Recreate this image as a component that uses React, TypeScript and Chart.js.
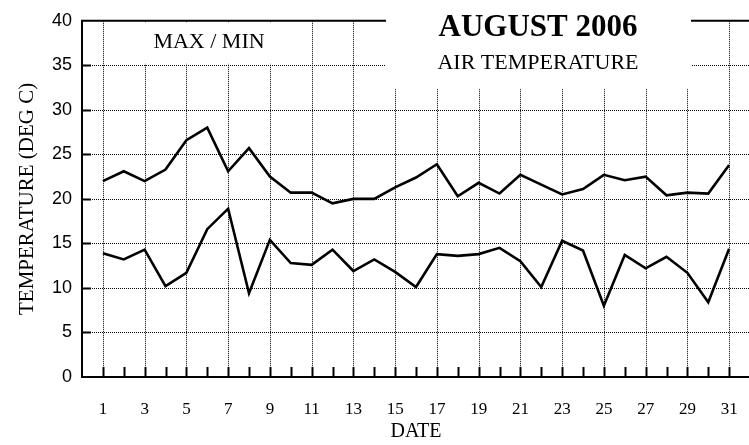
import React, { useEffect, useRef } from 'react';
import { Chart, registerables } from 'chart.js';

Chart.register(...registerables);

const days = [1, 2, 3, 4, 5, 6, 7, 8, 9, 10, 11, 12, 13, 14, 15, 16, 17, 18, 19, 20, 21, 22, 23, 24, 25, 26, 27, 28, 29, 30, 31];
const maxTemp = [22.0, 23.1, 22.0, 23.3, 26.6, 28.0, 23.1, 25.7, 22.5, 20.7, 20.7, 19.5, 20.0, 20.0, 21.3, 22.4, 23.9, 20.3, 21.8, 20.6, 22.7, 21.6, 20.5, 21.1, 22.7, 22.1, 22.5, 20.4, 20.7, 20.6, 23.8];
const minTemp = [13.9, 13.2, 14.3, 10.2, 11.7, 16.6, 18.9, 9.4, 15.4, 12.8, 12.6, 14.3, 11.9, 13.2, 11.8, 10.1, 13.8, 13.6, 13.8, 14.5, 13.0, 10.1, 15.3, 14.2, 8.0, 13.7, 12.2, 13.5, 11.7, 8.4, 14.4];
const yTickValues = [0, 5, 10, 15, 20, 25, 30, 35, 40];
const xLabelDays = [1, 3, 5, 7, 9, 11, 13, 15, 17, 19, 21, 23, 25, 27, 29, 31];

const titleText = 'AUGUST 2006';
const subtitleText = 'AIR TEMPERATURE';
const legendText = 'MAX / MIN';
const yTitle = 'TEMPERATURE (DEG C)';
const xTitle = 'DATE';

const SERIF = '"Liberation Serif", "Times New Roman", serif';
const SANS = '"Liberation Sans", Arial, sans-serif';

const decorPlugin = {
  id: 'decor',
  beforeDatasetsDraw(chart: any) {
    const { ctx, chartArea: a, scales } = chart;
    const xs = scales.x;
    const ys = scales.y;
    const W = chart.width;
    ctx.save();
    ctx.strokeStyle = '#000';
    ctx.lineWidth = 1;
    ctx.setLineDash([1, 1]);
    yTickValues.forEach((v) => {
      if (v <= yTickValues[0] || v >= yTickValues[yTickValues.length - 1]) return;
      const py = Math.round(ys.getPixelForValue(v)) + 0.5;
      ctx.beginPath();
      ctx.moveTo(a.left, py);
      ctx.lineTo(a.right, py);
      ctx.stroke();
    });
    xLabelDays.forEach((d) => {
      const px = Math.round(xs.getPixelForValue(d)) + 0.5;
      ctx.beginPath();
      ctx.moveTo(px, a.top);
      ctx.lineTo(px, a.bottom);
      ctx.stroke();
    });
    ctx.setLineDash([]);
    ctx.lineWidth = 2;
    yTickValues.forEach((v) => {
      if (v <= yTickValues[0] || v >= yTickValues[yTickValues.length - 1]) return;
      const py = Math.round(ys.getPixelForValue(v)) + 0.5;
      ctx.beginPath();
      ctx.moveTo(a.left, py);
      ctx.lineTo(a.left + 9, py);
      ctx.stroke();
    });
    days.forEach((d) => {
      const px = Math.round(xs.getPixelForValue(d)) + 0.5;
      ctx.beginPath();
      ctx.moveTo(px, a.bottom);
      ctx.lineTo(px, a.bottom - 10);
      ctx.stroke();
    });
    ctx.beginPath();
    ctx.moveTo(a.left, a.top);
    ctx.lineTo(W, a.top);
    ctx.moveTo(a.left, a.top - 1);
    ctx.lineTo(a.left, a.bottom + 1);
    ctx.moveTo(a.left, a.bottom);
    ctx.lineTo(W, a.bottom);
    ctx.stroke();

    ctx.fillStyle = '#fff';
    ctx.fillRect(a.left + 24, a.top + 2, 202, 41);
    ctx.fillRect(386, 0, 305, 89);

    ctx.fillStyle = '#000';
    ctx.textAlign = 'center';
    ctx.textBaseline = 'middle';
    ctx.font = `22px ${SERIF}`;
    ctx.fillText(legendText, 209, 42);
    ctx.fillText(subtitleText, 538, 63);
    ctx.font = `bold 31px ${SERIF}`;
    ctx.fillText(titleText, 538, 28);
    ctx.restore();
  },
};

export default function App() {
  const ref = useRef<HTMLCanvasElement | null>(null);
  useEffect(() => {
    if (!ref.current) return;
    const chart = new Chart(ref.current, {
      type: 'line',
      data: {
        datasets: [
          {
            label: 'MAX',
            data: days.map((d, i) => ({ x: d, y: maxTemp[i] })),
            borderColor: '#000',
            borderWidth: 2.6,
            pointRadius: 0,
            tension: 0,
            fill: false,
          },
          {
            label: 'MIN',
            data: days.map((d, i) => ({ x: d, y: minTemp[i] })),
            borderColor: '#000',
            borderWidth: 2.6,
            pointRadius: 0,
            tension: 0,
            fill: false,
          },
        ],
      },
      options: {
        responsive: false,
        animation: false,
        devicePixelRatio: 1,
        layout: { padding: { top: 16, right: 2, left: 0, bottom: 0 } },
        plugins: {
          legend: { display: false },
          title: { display: false },
          tooltip: { enabled: false },
        },
        scales: {
          x: {
            type: 'linear',
            min: 0,
            max: 32,
            grid: { display: false, drawTicks: false },
            border: { display: false },
            afterFit: (s: any) => {
              s.height = 68;
              s.paddingLeft = 0;
              s.paddingRight = 0;
            },
            ticks: {
              stepSize: 1,
              autoSkip: false,
              maxRotation: 0,
              padding: 22,
              color: '#000',
              font: { family: SERIF, size: 17 },
              callback: (v: any) => (xLabelDays.includes(Number(v)) ? String(v) : ''),
            },
            title: {
              display: true,
              text: xTitle,
              color: '#000',
              font: { family: SERIF, size: 20 },
              padding: { top: 0, bottom: 1 },
            },
          },
          y: {
            type: 'linear',
            min: 0,
            max: 40,
            grid: { display: false, drawTicks: false },
            border: { display: false },
            afterFit: (s: any) => {
              s.width = 82;
            },
            ticks: {
              stepSize: 5,
              padding: 10,
              color: '#000',
              font: { family: SANS, size: 18 },
              callback: (v: any) => (yTickValues.includes(Number(v)) ? String(v) : ''),
            },
            title: {
              display: true,
              text: yTitle,
              color: '#000',
              font: { family: SERIF, size: 21 },
              padding: { top: 15, bottom: 0 },
            },
          },
        },
      },
      plugins: [decorPlugin],
    });
    return () => chart.destroy();
  }, []);
  return (
    <div style={{ position: 'absolute', left: 0, top: 0, width: 749, height: 445, overflow: 'hidden', background: '#fff' }}>
      <canvas ref={ref} width={752} height={445} style={{ width: 752, height: 445, display: 'block' }} />
    </div>
  );
}
